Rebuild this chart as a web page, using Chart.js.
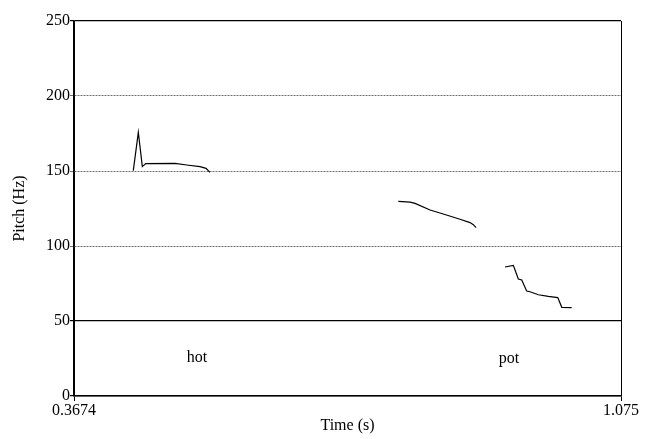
<!DOCTYPE html>
<html>
<head>
<meta charset="utf-8">
<title>Pitch contour</title>
<script src="https://cdn.jsdelivr.net/npm/chart.js@4/dist/chart.umd.min.js"></script>
<style>
  html, body { margin: 0; padding: 0; background: #fff; }
  #wrap { width: 653px; height: 439px; }
</style>
</head>
<body>
<div id="wrap"><canvas id="pitchChart" width="653" height="439"></canvas></div>
<script>
// Pitch track, one array pair per voiced stretch
const timeMin = 0.3674;
const timeMax = 1.075;
const pitchTicks = [0, 50, 100, 150, 200, 250];

const hotTimes = [0.4441, 0.4506, 0.4558, 0.4602, 0.4981, 0.5132, 0.5304, 0.5382, 0.5433];
const hotPitch = [150.2, 175.8, 152.9, 154.9, 155.1, 154.0, 152.9, 151.8, 149.1];

const potTimesA = [0.7869, 0.8021, 0.8086, 0.8280, 0.8451, 0.8667, 0.8797, 0.8840, 0.8875];
const potPitchA = [129.8, 129.3, 128.4, 124.0, 121.3, 117.8, 115.6, 114.2, 112.2];

const potTimesB = [0.9250, 0.9357, 0.9379, 0.9422, 0.9466, 0.9530, 0.9573, 0.9681, 0.9810, 0.9932, 0.9984, 1.0112];
const potPitchB = [86.0, 87.1, 84.0, 78.0, 77.3, 70.0, 69.5, 67.5, 66.4, 65.6, 59.1, 58.9];

// Word labels placed in data units
const wordText = ['hot', 'pot'];
const wordTimes = [0.5264, 0.9301];
const wordPitch = [25.5, 25];

const serif = '"Liberation Serif", "DejaVu Serif", serif';
const textFont = { family: serif, size: 16, weight: 'normal' };

function toPoints(xs, ys) {
  return xs.map((x, i) => ({ x: x, y: ys[i] }));
}

function track(xs, ys) {
  return {
    data: toPoints(xs, ys),
    borderColor: '#000',
    borderWidth: 1.2,
    pointRadius: 0,
    tension: 0,
    fill: false
  };
}

// Writes the words under the contours
const wordLabels = {
  id: 'wordLabels',
  afterDatasetsDraw(chart) {
    const { ctx, scales } = chart;
    ctx.save();
    ctx.font = '16px ' + serif;
    ctx.fillStyle = '#000';
    ctx.textAlign = 'center';
    ctx.textBaseline = 'middle';
    wordText.forEach((w, i) => {
      ctx.fillText(w, scales.x.getPixelForValue(wordTimes[i]), scales.y.getPixelForValue(wordPitch[i]));
    });
    ctx.restore();
  }
};

const solidLines = [0, 50, 250];

new Chart(document.getElementById('pitchChart'), {
  type: 'line',
  data: {
    datasets: [
      track(hotTimes, hotPitch),
      track(potTimesA, potPitchA),
      track(potTimesB, potPitchB)
    ]
  },
  options: {
    responsive: false,
    animation: false,
    layout: { padding: { top: 21, right: 32 } },
    plugins: {
      legend: { display: false },
      tooltip: { enabled: false }
    },
    scales: {
      x: {
        type: 'linear',
        min: timeMin,
        max: timeMax,
        afterBuildTicks(scale) {
          scale.ticks = [{ value: timeMin }, { value: timeMax }];
        },
        afterFit(scale) { scale.height = 43; },
        grid: { color: '#000', lineWidth: 1, tickLength: 5 },
        border: { color: '#000', width: 1.5 },
        ticks: {
          autoSkip: false,
          maxRotation: 0,
          padding: 0,
          color: '#000',
          font: textFont,
          callback: v => String(v)
        },
        title: {
          display: true,
          text: 'Time (s)',
          color: '#000',
          font: textFont,
          padding: { top: 0, bottom: 4 }
        }
      },
      y: {
        min: 0,
        max: 250,
        afterBuildTicks(scale) {
          scale.ticks = pitchTicks.map(v => ({ value: v }));
        },
        afterFit(scale) { scale.width = 74; },
        grid: {
          color: c => solidLines.includes(c.tick.value) ? '#000' : '#6e6e6e',
          lineWidth: c => solidLines.includes(c.tick.value) ? 1.2 : 1,
          tickLength: 4
        },
        border: {
          color: '#000',
          width: 1.5,
          dash: c => (c.tick && !solidLines.includes(c.tick.value)) ? [2, 1] : []
        },
        ticks: {
          padding: 0,
          color: '#000',
          font: textFont,
          callback: v => String(v)
        },
        title: {
          display: true,
          text: 'Pitch (Hz)',
          color: '#000',
          font: textFont,
          padding: { top: 10, bottom: 0 }
        }
      }
    }
  },
  plugins: [wordLabels]
});
</script>
</body>
</html>
